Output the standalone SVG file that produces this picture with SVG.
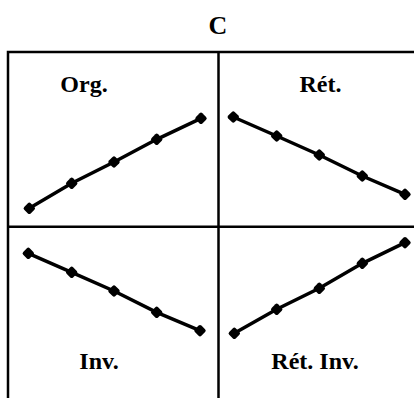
<svg xmlns="http://www.w3.org/2000/svg" width="414" height="398" viewBox="0 0 414 398">
<style>
.t{font-family:"Liberation Serif","Times New Roman",serif;font-weight:bold;fill:#000;text-anchor:middle}
.grid{stroke:#000;stroke-width:2.5;fill:none}
.s{stroke:#000;stroke-width:3.5;fill:none;marker-start:url(#d);marker-mid:url(#d);marker-end:url(#d)}
</style>
<defs>
<marker id="d" viewBox="-8 -8 16 16" markerWidth="16" markerHeight="16" markerUnits="userSpaceOnUse" orient="0">
<rect x="-4.6" y="-4.6" width="9.2" height="9.2" rx="2" transform="rotate(45)" fill="#000"/>
</marker>
</defs>
<rect width="414" height="398" fill="#fff"/>
<text class="t" x="218" y="34" font-size="26">C</text>
<g id="grid">
<path class="grid" d="M8,398 V52 H414 M218.5,52 V398 M8,226.7 H414"/>
</g>
<g id="org">
<text class="t" x="84" y="92" font-size="24">Org.</text>
<polyline class="s" points="29.3,208.3 71.7,183.3 114,162 156.7,139.3 201,118.3"/>
</g>
<g id="ret">
<text class="t" x="320.5" y="92" font-size="24">Rét.</text>
<polyline class="s" points="233.3,117 276.7,136 319.3,155 362.3,176 405,194.3"/>
</g>
<g id="inv">
<text class="t" x="99" y="369" font-size="24">Inv.</text>
<polyline class="s" points="28.3,253.3 71.7,272.3 114,291 156.7,312.3 200,330.7"/>
</g>
<g id="retinv">
<text class="t" x="315" y="369" font-size="24">Rét. Inv.</text>
<polyline class="s" points="234.3,333.3 276.7,309.3 319.3,288.3 362.3,263.3 405,242.7"/>
</g>
</svg>
